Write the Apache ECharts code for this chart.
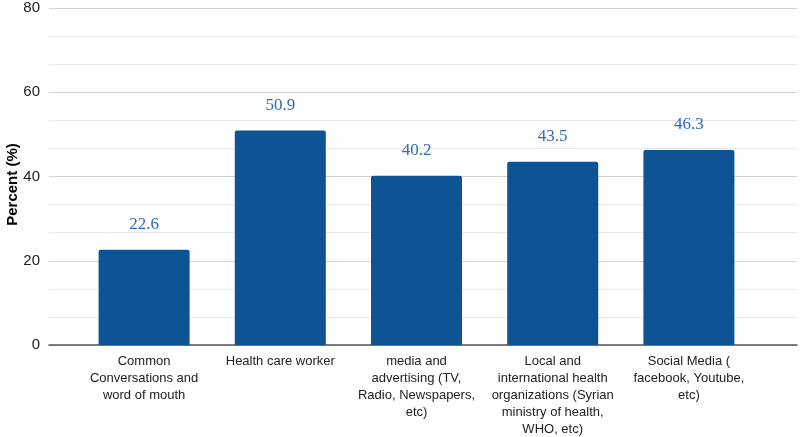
<!DOCTYPE html>
<html>
<head>
<meta charset="utf-8">
<script src="https://cdn.jsdelivr.net/npm/echarts@6/dist/echarts.min.js"></script>
<style>html,body{margin:0;padding:0;background:#fff}#c{width:800px;height:437px}</style>
</head>
<body>
<div id="c"></div>
<script>
const categories = [
  "Common\nConversations and\nword of mouth",
  "Health care worker",
  "media and\nadvertising (TV,\nRadio, Newspapers,\netc)",
  "Local and\ninternational health\norganizations (Syrian\nministry of health,\nWHO, etc)",
  "Social Media (\nfacebook, Youtube,\netc)"
];
const values = [22.6, 50.9, 40.2, 43.5, 46.3];
const yMin = 0, yMax = 80, yInterval = 20;

const chart = echarts.init(document.getElementById('c'));
chart.setOption({
  animation: false,
  grid: [
    {left: 49, right: 3, top: 8, bottom: 92, outerBoundsMode: 'none', containLabel: false},
    {left: 76, right: 43, top: 8, bottom: 92, outerBoundsMode: 'none', containLabel: false}
  ],
  xAxis: [
    {gridIndex: 0, type: 'category', data: [''], axisLine: {show: true, lineStyle: {color: '#555', width: 1.5}},
     axisTick: {show: false}, axisLabel: {show: false}},
    {gridIndex: 1, type: 'category', data: categories,
     axisLine: {show: false}, axisTick: {show: false},
     axisLabel: {interval: 0, color: '#222', fontSize: 13, lineHeight: 17, margin: 8,
       fontFamily: 'Liberation Sans, Arial, sans-serif'}}
  ],
  yAxis: [
    {gridIndex: 0, type: 'value', min: yMin, max: yMax, interval: yInterval,
     name: 'Percent (%)', nameLocation: 'middle', nameGap: 29, nameRotate: 90, nameMoveOverlap: false,
     nameTextStyle: {fontSize: 15, fontWeight: 'bold', color: '#000', fontFamily: 'Liberation Sans, Arial, sans-serif', padding: [0,16,0,0]},
     axisLine: {show: false}, axisTick: {show: false},
     axisLabel: {color: '#222', fontSize: 15, margin: 9, fontFamily: 'Liberation Sans, Arial, sans-serif'},
     splitLine: {lineStyle: {color: '#d2d2d2', width: 1}},
     minorTick: {show: false, splitNumber: 3},
     minorSplitLine: {show: true, lineStyle: {color: '#e8e8e8', width: 1}}},
    {gridIndex: 1, type: 'value', min: yMin, max: yMax, interval: yInterval, show: false,
     splitLine: {show: false}}
  ],
  series: [{
    type: 'bar', xAxisIndex: 1, yAxisIndex: 1, data: values, barWidth: 91,
    itemStyle: {color: '#0e5394', borderRadius: [2, 2, 0, 0]},
    z: 3,
    label: {show: true, position: 'top', distance: 17, color: '#2f6db3', fontSize: 17,
      fontFamily: 'Liberation Serif, serif',
      formatter: p => p.value.toFixed(1)}
  }]
});
</script>
</body>
</html>
